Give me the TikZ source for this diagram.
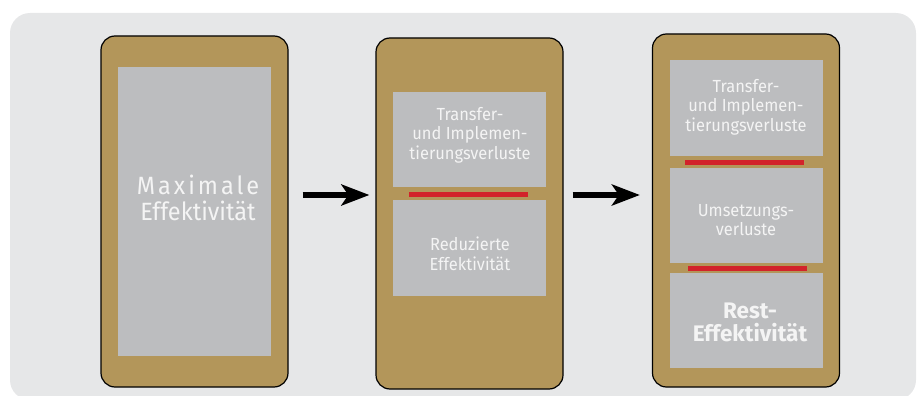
\documentclass[tikz,border=0pt]{standalone}
\usepackage{fontspec}
\setmainfont{Fira Sans}
\newfontfamily\cellfont[FakeStretch=0.94]{Fira Sans}
\newfontfamily\widefont[FakeStretch=0.94,LetterSpace=12]{Fira Sans}
\usetikzlibrary{arrows.meta}

\definecolor{bggray}{HTML}{E6E7E8}
\definecolor{panelbrown}{HTML}{B3965A}
\definecolor{cellgray}{HTML}{BCBDBF}
\definecolor{lossred}{HTML}{D2232A}
\definecolor{celltext}{HTML}{F4F4F4}

\begin{document}
\begin{tikzpicture}[x=1pt,y=-1pt,
  panel/.style={draw=black, line width=1.2pt, fill=panelbrown,
    rounded corners=14pt, minimum width=187pt, inner sep=0pt},
  cell/.style={fill=cellgray, minimum width=153pt, inner sep=0pt},
  lossbar/.style={fill=lossred, minimum width=119pt, minimum height=5pt, inner sep=0pt},
  txt/.style={text=celltext, align=center, inner sep=0pt,
    font=\cellfont\fontsize{17.5}{19.5}\selectfont},
  bigtxt/.style={text=celltext, align=center, inner sep=0pt,
    font=\fontsize{22.5}{22.5}\selectfont\bfseries},
  flow/.style={line width=5.5pt, -{Stealth[length=28pt,width=21pt,inset=7pt]}}
]
\useasboundingbox (0,0) rectangle (919,396);
\clip (0,0) rectangle (919,396);

% backdrop
\fill[bggray, rounded corners=20pt] (10,13) rectangle (916,400);

% three stages
\node[panel, minimum height=351pt] (p1) at (194.5,211.5) {};
\node[panel, minimum height=351pt] (p2) at (469.5,213.5) {};
\node[panel, minimum height=353pt] (p3) at (746,210.5) {};

% stage 1
\node[cell, minimum height=289pt] (c1) at (194.5,211.5) {};
\node[txt, font=\widefont\fontsize{25}{26}\selectfont] (t1a) at (198,185) {Maximale};
\node[txt, font=\cellfont\fontsize{25}{26}\selectfont] (t1b) at (198,211) {Effektivität};

% stage 2
\node[cell, minimum height=95pt] (c2a) at (469.5,139.5) {};
\node[lossbar] (r2) at (468.5,194.5) {};
\node[cell, minimum height=96pt] (c2b) at (469.5,248) {};
\node[txt] (t2a) at (470,135) {Transfer-\\und Implemen-\\tierungsverluste};
\node[txt] (t2b) at (470,254) {Reduzierte\\Effektivität};

% stage 3
\node[cell, minimum height=96pt] (c3a) at (746.5,108) {};
\node[lossbar] (r3a) at (744.5,162.5) {};
\node[cell, minimum height=95pt] (c3b) at (746.5,215.5) {};
\node[lossbar] (r3b) at (747.5,268.5) {};
\node[cell, minimum height=95pt] (c3c) at (746.5,320.5) {};
\node[txt] (t3a) at (746,107) {Transfer-\\und Implemen-\\tierungsverluste};
\node[txt] (t3b) at (746,220) {Umsetzungs-\\verluste};
\node[bigtxt] (t3c) at (750,322.5) {Rest-\\Effektivität};

% transitions
\draw[flow, shorten <=14pt, shorten >=6pt] (p1.east |- 0,195) -- (p2.west |- 0,195);
\draw[flow, shorten <=9pt, shorten >=12pt] (p2.east |- 0,195) -- (p3.west |- 0,195);
\end{tikzpicture}
\end{document}
